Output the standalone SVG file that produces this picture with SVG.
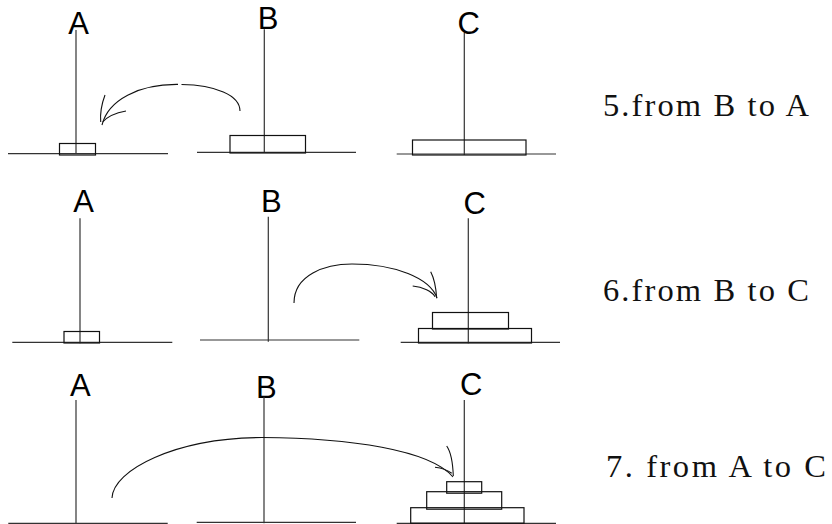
<svg xmlns="http://www.w3.org/2000/svg" width="832" height="524" viewBox="0 0 832 524">
<style>
.lbl{font-family:"Liberation Sans",Arial,sans-serif;font-size:31px;fill:#000}
.cap{font-family:"Liberation Serif","Times New Roman",serif;font-size:32.5px;fill:#111}
.pole,.base{stroke:#333;stroke-width:1.2;fill:none}
.disk{stroke:#111;stroke-width:1.2;fill:none}
.arc{stroke:#111;stroke-width:1.1;fill:none}
</style>
<rect width="832" height="524" fill="#fff"/>
<g id="step5">
  <g id="s5-pegA">
    <text class="lbl" x="68.3" y="34">A</text>
    <line class="pole" x1="76" y1="30" x2="76" y2="154"/>
    <line class="base" x1="8" y1="153.7" x2="168" y2="153.7"/>
    <rect class="disk" x="59.5" y="143.5" width="36" height="11.5"/>
  </g>
  <g id="s5-pegB">
    <text class="lbl" x="257.7" y="29.3">B</text>
    <line class="pole" x1="264.3" y1="29.3" x2="264.3" y2="153"/>
    <line class="base" x1="197" y1="152.3" x2="356" y2="152.3"/>
    <rect class="disk" x="230" y="135.5" width="75.5" height="17.5"/>
  </g>
  <g id="s5-pegC">
    <text class="lbl" x="457.5" y="33.5">C</text>
    <line class="pole" x1="464.3" y1="33" x2="464.3" y2="155"/>
    <line class="base" x1="396.7" y1="154" x2="556" y2="154"/>
    <rect class="disk" x="412.5" y="140" width="113.5" height="15"/>
  </g>
  <text id="s5-caption" class="cap" x="603" y="115.5" textLength="206" lengthAdjust="spacing">5.from B to A</text>
</g>
<g id="step6">
  <g id="s6-pegA">
    <text class="lbl" x="73.3" y="212.3">A</text>
    <line class="pole" x1="80" y1="218.3" x2="80" y2="343.3"/>
    <line class="base" x1="12.3" y1="342.3" x2="172.3" y2="342.3"/>
    <rect class="disk" x="64" y="331.5" width="35.5" height="11.5"/>
  </g>
  <g id="s6-pegB">
    <text class="lbl" x="261" y="212">B</text>
    <line class="pole" x1="268.3" y1="216.7" x2="268.3" y2="341.7"/>
    <line class="base" x1="200" y1="340" x2="359.3" y2="340"/>
  </g>
  <g id="s6-pegC">
    <text class="lbl" x="463.5" y="213.5">C</text>
    <line class="pole" x1="468.3" y1="218.3" x2="468.3" y2="343.3"/>
    <line class="base" x1="400.7" y1="342.3" x2="560" y2="342.3"/>
    <rect class="disk" x="418.5" y="328.5" width="113" height="14.5"/>
    <rect class="disk" x="432.5" y="312.5" width="76" height="16.5"/>
  </g>
  <text id="s6-caption" class="cap" x="603" y="300.5" textLength="206" lengthAdjust="spacing">6.from B to C</text>
</g>
<g id="step7">
  <g id="s7-pegA">
    <text class="lbl" x="70" y="396">A</text>
    <line class="pole" x1="76" y1="400" x2="76" y2="524"/>
    <line class="base" x1="8.3" y1="523.3" x2="167.7" y2="523.3"/>
  </g>
  <g id="s7-pegB">
    <text class="lbl" x="256" y="398.3">B</text>
    <line class="pole" x1="264" y1="396.7" x2="264" y2="523.3"/>
    <line class="base" x1="196.7" y1="522.3" x2="356" y2="522.3"/>
  </g>
  <g id="s7-pegC">
    <text class="lbl" x="460" y="395">C</text>
    <line class="pole" x1="464.3" y1="400" x2="464.3" y2="524"/>
    <line class="base" x1="396.7" y1="523.3" x2="556" y2="523.3"/>
    <rect class="disk" x="446.7" y="481.7" width="35" height="11.5"/>
    <rect class="disk" x="426.7" y="491.7" width="75" height="17.5"/>
    <rect class="disk" x="410.7" y="507.7" width="113.3" height="15.5"/>
  </g>
  <text id="s7-caption" class="cap" x="606" y="476.5" textLength="220" lengthAdjust="spacing">7. from A to C</text>
</g>
<g id="connectors">
  <path class="arc" d="M240,111 C240,95 215,85 181.5,84.5"/>
  <path class="arc" d="M178,84.4 C139,84 108,100 102,125"/>
  <path class="arc" d="M105,95 C102,103 100,113 100.7,122"/>
  <path class="arc" d="M126,111 C115,113 107,117 102.7,122"/>

  <path class="arc" d="M294,303 C294,275 325,264 352,264 C395,264 430,278 437,298"/>
  <path class="arc" d="M430.7,271.7 C434,278 436,287 436.7,298.3"/>
  <path class="arc" d="M412.7,286 C423,287 432,291.7 435,296.7"/>

  <path class="arc" d="M112,498 C113,470 175,438 262,437.5 C350,438 430,450 453,477"/>
  <path class="arc" d="M446.7,446 C450.7,451.7 452.7,460 453.3,476"/>
  <path class="arc" d="M435,467.3 C443.3,468.3 448.3,470.7 451.7,473.3"/>
</g>
</svg>
